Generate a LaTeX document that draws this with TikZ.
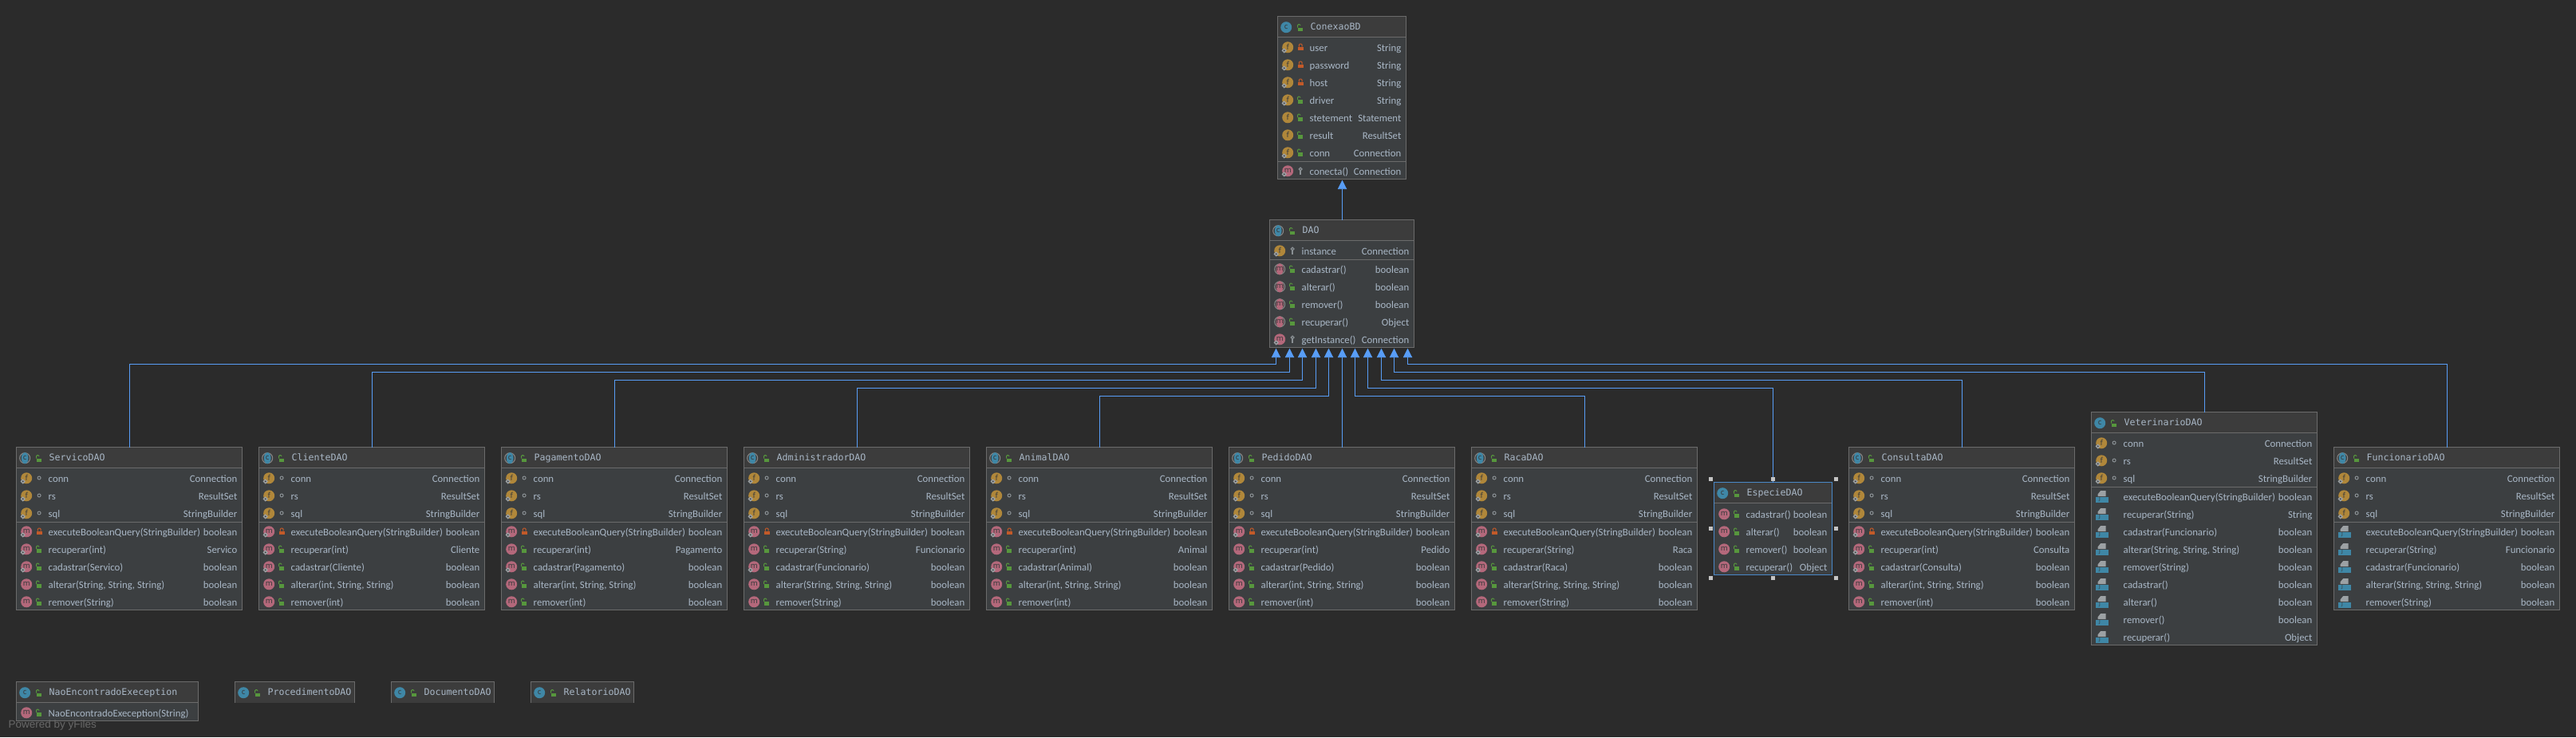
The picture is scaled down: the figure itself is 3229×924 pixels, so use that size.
\documentclass[tikz,border=0pt]{standalone}
\usepackage{fontspec}
\setmainfont{Carlito}
\newfontfamily\titlefont{DejaVu Sans Mono}
\newfontfamily\yfont{Liberation Sans}
\newfontfamily\iconfont{Noto Sans}
\usetikzlibrary{arrows.meta}
\definecolor{bgc}{HTML}{2B2B2B}
\definecolor{bodyc}{HTML}{3C3F41}
\definecolor{hdrc}{HTML}{3C3C3C}
\definecolor{linec}{HTML}{6B6B6B}
\definecolor{textc}{HTML}{A9B7C6}
\definecolor{arrowc}{HTML}{589DF6}
\definecolor{selc}{HTML}{4A88C7}
\definecolor{cicon}{HTML}{3F87A6}
\definecolor{ficon}{HTML}{B0873A}
\definecolor{micon}{HTML}{B4687B}
\definecolor{iconl}{HTML}{37393B}
\definecolor{lockg}{HTML}{57973D}
\definecolor{lockr}{HTML}{C25A29}
\definecolor{dotc}{HTML}{8A9094}
\definecolor{handc}{HTML}{C4C4C4}
\definecolor{yfc}{HTML}{686868}
\tikzset{
  classbody/.style={draw=linec,fill=bodyc,line width=1pt,rectangle,inner sep=0pt,outer sep=0pt,anchor=north west},
  memberl/.style={text=textc,inner sep=0pt,anchor=base west,font=\fontsize{12.8}{15}\selectfont},
  memberr/.style={text=textc,inner sep=0pt,anchor=base east,font=\fontsize{12.8}{15}\selectfont},
  titlel/.style={text=textc,inner sep=0pt,anchor=base west,font=\titlefont\fontsize{11.6}{14}\selectfont},
  iconlet/.style={text=iconl,inner sep=0pt,anchor=center,font=\iconfont\fontsize{9.5}{10}\selectfont},
  inh/.style={draw=arrowc,line width=.75pt,-{Triangle[length=11.3pt,width=11.3pt,fill=arrowc]}},
  handle/.style={fill=handc,draw=none,rectangle,minimum size=5pt,inner sep=0pt,outer sep=0pt},
  yf/.style={text=yfc,inner sep=0pt,anchor=base west,font=\yfont\fontsize{13.5}{15}\selectfont},
}
\newcount\nid
\newcommand\Txt[3]{\global\advance\nid by 1 \node[#1] (n\the\nid) at (#2) {#3};}
% visibility marks, #1 = row y
\newcommand\Viso[1]{%
  \fill[lockg] (\LL+25.2,#1-1) rectangle (\LL+31.2,#1+3.6);
  \draw[lockg,line width=1pt,rounded corners=1.2pt] (\LL+25.2,#1-1) -- (\LL+25.2,#1-5) -- (\LL+28.4,#1-5) -- (\LL+28.4,#1-3.4);}
\newcommand\Visr[1]{%
  \fill[lockr] (\LL+25.4,#1-1.5) rectangle (\LL+32,#1+3);
  \draw[lockr,line width=1pt,rounded corners=1.2pt] (\LL+26.8,#1-1.5) -- (\LL+26.8,#1-5) -- (\LL+30.6,#1-5) -- (\LL+30.6,#1-1.5);}
\newcommand\Visp[1]{\draw[dotc,line width=1pt] (\LL+28.6,#1-1) circle (2pt);}
\newcommand\Visk[1]{%
  \draw[dotc,line width=1.2pt] (\LL+28.6,#1-3) circle (1.8pt);
  \draw[dotc,line width=1.4pt] (\LL+28.6,#1-1) -- (\LL+28.6,#1+3.5);}
\newcommand\Visn[1]{}
% member icons
\newcommand\Icf[1]{\fill[ficon] (\LL+12.7,#1-.7) circle (7pt); \Txt{iconlet}{\LL+12.7,#1-.7}{f}}
\newcommand\Icm[1]{\fill[micon] (\LL+12.7,#1-.7) circle (7pt); \Txt{iconlet}{\LL+12.7,#1-.7}{m}}
\newcommand\Ica[1]{%
  \draw[linec!80!white,line width=1pt] (\LL+12.7,#1-.7) circle (6.5pt);
  \fill[micon] (\LL+12.7,#1-.7) ellipse [x radius=4.6pt,y radius=7pt];
  \Txt{iconlet}{\LL+12.7,#1-.7}{m}}
\newcommand\IcJ[1]{%
  \fill[dotc!85!white] (\LL+8,#1-1) -- (\LL+8,#1-3.5) -- (\LL+11.5,#1-7.8) -- (\LL+18,#1-7.8) -- (\LL+18,#1-1) -- cycle;
  \fill[cicon] (\LL+5.7,#1-.4) rectangle (\LL+21,#1+7);
  \Txt{iconlet,font=\iconfont\fontsize{6.5}{7}\selectfont}{\LL+10.5,#1+3.2}{J}}
\newcommand\Diad[1]{%
  \fill[dotc!85!white] (\LL+8.2,#1+.3) -- (\LL+11.4,#1+3.4) -- (\LL+8.2,#1+6.6) -- (\LL+5,#1+3.4) -- cycle;
  \fill[iconl] (\LL+8.2,#1+3.4) circle (1pt);}
\newcommand\Dian[1]{}
% row: y, icon, diamond, vis, name, type
\newcommand\Row[6]{%
  \csname Ic#2\endcsname{#1}\csname Dia#3\endcsname{#1}\csname Vis#4\endcsname{#1}%
  \Txt{memberl}{\LL+40,#1+4.4}{#5}%
  \if\relax\detokenize{#6}\relax\else\Txt{memberr}{\RR-6,#1+4.4}{#6}\fi}
% class box: name, L, R, T, H, S (0 = none), B, title, a/n
\newcommand\ClassBox[9]{%
  \def\LL{#2}\def\RR{#3}%
  \pgfmathsetmacro\WW{#3-#2}\pgfmathsetmacro\HH{#7-#4}%
  \node[classbody,minimum width=\WW pt,minimum height=\HH pt] (#1) at (#2,#4) {};%
  \fill[hdrc] (#2+.5,#4+.5) rectangle (#3-.5,#5);%
  \ifdim#5pt<#7pt \draw[linec,line width=1pt] (#2,#5) -- (#3,#5);\fi
  \ifdim#6pt>0pt \draw[linec,line width=1pt] (#2,#6) -- (#3,#6);\fi
  \if a#9%
    \draw[linec!80!white,line width=1pt] (#2+10.7,#4+13.7) circle (6.5pt);
    \fill[cicon] (#2+10.7,#4+13.7) ellipse [x radius=4.4pt,y radius=7pt];
  \else
    \fill[cicon] (#2+10.7,#4+13.7) circle (7pt);
  \fi
  \Txt{iconlet}{#2+10.7,#4+13.7}{c}%
  \pgfmathsetmacro\yy{#4+15}\Viso{\yy}%
  \Txt{titlel}{#2+41,#4+16.7}{#8}}
\newcommand\Fields[1]{%
  \pgfmathsetmacro\ya{#1}\pgfmathsetmacro\yb{#1+22}\pgfmathsetmacro\yc{#1+44}%
  \Row{\ya}{f}{d}{p}{conn}{Connection}%
  \Row{\yb}{f}{d}{p}{rs}{ResultSet}%
  \Row{\yc}{f}{d}{p}{sql}{StringBuilder}}
% DAO box: name, L, title, a/n, recuperar diamond, recuperar arg, entity, first alter arg
\newcommand\DaoBox[8]{%
  \pgfmathsetmacro\RX{#2+283}%
  \ClassBox{#1}{#2}{\RX}{560.5}{586.5}{654.5}{764.5}{#3}{#4}%
  \def\LL{#2}\let\RR\RX
  \Fields{600}%
  \Row{667}{m}{d}{r}{executeBooleanQuery(StringBuilder)}{boolean}%
  \Row{689}{m}{#5}{o}{recuperar(#6)}{#7}%
  \Row{711}{m}{d}{o}{cadastrar(#7)}{boolean}%
  \Row{733}{m}{n}{o}{alterar(#8, String, String)}{boolean}%
  \Row{755}{m}{n}{o}{remover(#8)}{boolean}}
% connector: class, x shift, level, tip
\newcommand\Conn[4]{\draw[inh] ([xshift=#2pt]#1.north) -- ([xshift=#2pt]#1.north |- #3) -| (#4);}
\begin{document}
\begin{tikzpicture}[x=1pt,y=-1pt]
\useasboundingbox (0,0) rectangle (3229,924);
\fill[bgc] (0,0) rectangle (3229,924);

% ConexaoBD
\ClassBox{ConexaoBD}{1601.5}{1762.5}{20.5}{46.5}{202.5}{224.5}{ConexaoBD}{n}
\Row{60}{f}{d}{r}{user}{String}
\Row{82}{f}{d}{r}{password}{String}
\Row{104}{f}{d}{r}{host}{String}
\Row{126}{f}{d}{o}{driver}{String}
\Row{148}{f}{n}{o}{stetement}{Statement}
\Row{170}{f}{n}{o}{result}{ResultSet}
\Row{192}{f}{d}{o}{conn}{Connection}
\Row{215}{m}{d}{k}{conecta()}{Connection}

% DAO
\ClassBox{DAO}{1591.5}{1772.5}{275.5}{301.5}{325.5}{435.5}{DAO}{a}
\Row{315}{f}{d}{k}{instance}{Connection}
\Row{338}{a}{n}{o}{cadastrar()}{boolean}
\Row{360}{a}{n}{o}{alterar()}{boolean}
\Row{382}{a}{n}{o}{remover()}{boolean}
\Row{404}{a}{n}{o}{recuperar()}{Object}
\Row{426}{m}{d}{k}{getInstance()}{Connection}

% DAO subclasses
\DaoBox{ServicoDAO}{20.5}{ServicoDAO}{a}{d}{int}{Servico}{String}
\DaoBox{ClienteDAO}{324.5}{ClienteDAO}{a}{d}{int}{Cliente}{int}
\DaoBox{PagamentoDAO}{628.5}{PagamentoDAO}{a}{n}{int}{Pagamento}{int}
\DaoBox{AdministradorDAO}{932.5}{AdministradorDAO}{a}{n}{String}{Funcionario}{String}
\DaoBox{AnimalDAO}{1236.5}{AnimalDAO}{a}{n}{int}{Animal}{int}
\DaoBox{PedidoDAO}{1540.5}{PedidoDAO}{a}{n}{int}{Pedido}{int}
\DaoBox{RacaDAO}{1844.5}{RacaDAO}{a}{d}{String}{Raca}{String}
\DaoBox{ConsultaDAO}{2317.5}{ConsultaDAO}{a}{d}{int}{Consulta}{int}

% EspecieDAO (selected)
\ClassBox{EspecieDAO}{2148.5}{2296.5}{604.5}{630.5}{0}{720.5}{EspecieDAO}{n}
\draw[selc,line width=1pt] (EspecieDAO.north west) rectangle (EspecieDAO.south east);
\Row{645}{m}{n}{o}{cadastrar()}{boolean}
\Row{667}{m}{n}{o}{alterar()}{boolean}
\Row{689}{m}{n}{o}{remover()}{boolean}
\Row{711}{m}{n}{o}{recuperar()}{Object}

% VeterinarioDAO
\ClassBox{VeterinarioDAO}{2621.5}{2904.5}{516.5}{542.5}{610.5}{808.5}{VeterinarioDAO}{n}
\Fields{556}
\Row{623}{J}{n}{n}{executeBooleanQuery(StringBuilder)}{boolean}
\Row{645}{J}{n}{n}{recuperar(String)}{String}
\Row{667}{J}{n}{n}{cadastrar(Funcionario)}{boolean}
\Row{689}{J}{n}{n}{alterar(String, String, String)}{boolean}
\Row{711}{J}{n}{n}{remover(String)}{boolean}
\Row{733}{J}{n}{n}{cadastrar()}{boolean}
\Row{755}{J}{n}{n}{alterar()}{boolean}
\Row{777}{J}{n}{n}{remover()}{boolean}
\Row{799}{J}{n}{n}{recuperar()}{Object}

% FuncionarioDAO
\ClassBox{FuncionarioDAO}{2925.5}{3208.5}{560.5}{586.5}{654.5}{764.5}{FuncionarioDAO}{a}
\Fields{600}
\Row{667}{J}{n}{n}{executeBooleanQuery(StringBuilder)}{boolean}
\Row{689}{J}{n}{n}{recuperar(String)}{Funcionario}
\Row{711}{J}{n}{n}{cadastrar(Funcionario)}{boolean}
\Row{733}{J}{n}{n}{alterar(String, String, String)}{boolean}
\Row{755}{J}{n}{n}{remover(String)}{boolean}

% bottom row
\ClassBox{NaoEncontradoExeception}{20.5}{248.5}{854.5}{880.5}{0}{903.5}{NaoEncontradoExeception}{n}
\Row{894}{m}{n}{o}{NaoEncontradoExeception(String)}{}
\ClassBox{ProcedimentoDAO}{294.5}{444.5}{854.5}{880.5}{0}{880.5}{ProcedimentoDAO}{n}
\ClassBox{DocumentoDAO}{490.5}{619.5}{854.5}{880.5}{0}{880.5}{DocumentoDAO}{n}
\ClassBox{RelatorioDAO}{665.5}{794.5}{854.5}{880.5}{0}{880.5}{RelatorioDAO}{n}
\Txt{yf}{10.5,912.5}{Powered by yFiles}

% arrow tips on DAO
\coordinate (t1) at (1599.5,436.7);
\coordinate (t2) at (1616.5,436.7);
\coordinate (t3) at (1632.5,436.7);
\coordinate (t4) at (1649.5,436.7);
\coordinate (t5) at (1665.5,436.7);
\coordinate (t6) at (1682.5,436.7);
\coordinate (t7) at (1698.5,436.7);
\coordinate (t8) at (1714.5,436.7);
\coordinate (t9) at (1731.5,436.7);
\coordinate (t10) at (1747.5,436.7);
\coordinate (t11) at (1764.5,436.7);
\coordinate (h1) at (0,456.5);
\coordinate (h2) at (0,466.5);
\coordinate (h3) at (0,476.5);
\coordinate (h4) at (0,486.5);
\coordinate (h5) at (0,496.5);

\draw[inh,shorten >=1.2pt] ([xshift=.5pt]DAO.north) -- ([xshift=.5pt]ConexaoBD.south);
\Conn{ServicoDAO}{.5}{h1}{t1}
\Conn{ClienteDAO}{.5}{h2}{t2}
\Conn{PagamentoDAO}{.5}{h3}{t3}
\Conn{AdministradorDAO}{.5}{h4}{t4}
\Conn{AnimalDAO}{.5}{h5}{t5}
\draw[inh] ([xshift=.5pt]PedidoDAO.north) -- (t6);
\Conn{RacaDAO}{.5}{h5}{t7}
\Conn{EspecieDAO}{0}{h4}{t8}
\Conn{ConsultaDAO}{.5}{h3}{t9}
\Conn{VeterinarioDAO}{.5}{h2}{t10}
\Conn{FuncionarioDAO}{.5}{h1}{t11}

% selection handles
\node[handle] (s1) at (2144.5,600.5) {};
\node[handle] (s2) at (2222.5,600.5) {};
\node[handle] (s3) at (2301.5,600.5) {};
\node[handle] (s4) at (2144.5,662.5) {};
\node[handle] (s5) at (2301.5,662.5) {};
\node[handle] (s6) at (2144.5,724.5) {};
\node[handle] (s7) at (2222.5,724.5) {};
\node[handle] (s8) at (2301.5,724.5) {};
\end{tikzpicture}
\end{document}
